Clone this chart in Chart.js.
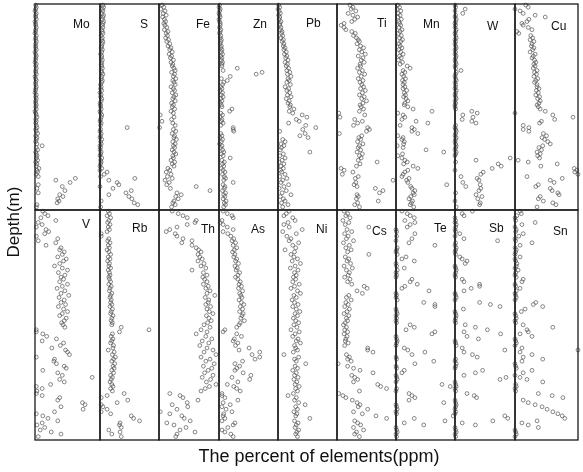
<!DOCTYPE html>
<html>
<head>
<meta charset="utf-8">
<script src="https://cdn.jsdelivr.net/npm/chart.js@4/dist/chart.umd.min.js"></script>
<style>
  html, body { margin: 0; padding: 0; background: #fff; }
  #fig { position: relative; width: 583px; height: 472px; overflow: hidden;
         font-family: "Liberation Sans", Arial, Helvetica, sans-serif; color: #111; }
  #fig canvas { position: absolute; }
  .lab { position: absolute; font-size: 12px; line-height: 12px; white-space: nowrap; }
  .xtitle { position: absolute; font-size: 18px; line-height: 18px; white-space: nowrap;
            transform: translateX(-50%); }
  .ytitle { position: absolute; font-size: 17px; line-height: 17px; white-space: nowrap;
            transform: translate(-50%, -50%) rotate(-90deg); }
</style>
</head>
<body>
<div id="fig"></div>
<script>
// Sample depths (m), shared by every element profile
const depth = [0.5,1.6,2.5,3.4,4.6,5.5,6.4,7.5,8.6,9.5,10.4,11.5,12.6,13.5,14.4,15.5,16.6,17.5,18.4,19.5,
  20.6,21.5,22.4,23.5,24.6,25.5,26.4,27.5,28.6,29.5,30.4,31.5,32.6,33.5,34.4,35.5,36.6,37.5,38.4,39.5,
  40.6,41.5,42.4,43.5,44.6,45.5,46.4,47.5,48.6,49.5,50.4,51.5,52.6,53.5,54.4,55.5,56.6,57.5,58.4,59.5,
  60.6,61.5,62.4,63.5,64.6,65.5,66.4,67.5,68.6,69.5,70.4,71.5,72.6,73.5,74.4,75.5,76.6,77.5,78.4,79.5,
  80.6,81.5,82.4,83.5,84.6,85.5,86.4,87.5,88.6,89.5,90.4,91.5,92.6,93.5,94.4,95.5,96.6,97.5,98.4,99.5];

// Element names, upper and lower rows of panels
const topElements = ['Mo','S','Fe','Zn','Pb','Ti','Mn','W','Cu'];
const bottomElements = ['V','Rb','Th','As','Ni','Cs','Te','Sb','Sn'];

// Relative content of each element (percent of its own panel range), one value per depth
const mo = [1,2,1,0,2,1,1,2,0,1, 1,2,1,1,0,2,1,1,2,1, 1,1,2,0,1,2,1,1,0,2, 1,2,1,1,2,0,1,2,1,1,
  2,1,1,0,2,1,2,1,1,2, 1,2,0,1,2,3,1,2,1,2, 3,1,2,4,1,3,2,1,3,11, 2,4,1,2,3,2,4,1,3,2,
  6,3,4,2,5,62,32,54,5,42, 3,46,5,38,43,35,37,34,3,2];
const s = [5,6,4,5,3,6,5,4,6,5, 4,5,3,4,5,2,4,3,5,4, 3,2,4,3,1,3,2,4,3,2, 3,4,2,3,5,3,2,4,3,1,
  2,1,3,0,2,1,3,2,0,1, 1,2,0,1,3,2,1,0,2,1, 46,1,0,2,1,0,3,1,2,0, 1,0,2,1,0,3,1,2,1,0,
  3,0,12,7,1,59,15,29,32,0, 22,53,44,15,49,54,2,58,64,1];
const fe = [5,8,3,10,7,12,6,9,11,8, 10,13,9,15,12,14,11,16,13,18, 15,20,18,22,17,21,19,24,20,23,
  22,25,27,21,26,24,28,23,25,27, 20,24,26,22,28,25,23,27,21,24, 22,26,20,24,2,25,21,5,23,27,
  1,24,28,22,26,25,29,23,27,24, 26,22,25,28,23,24,20,26,22,25, 15,18,12,20,14,22,10,17,13,62,
  19,85,30,37,28,32,25,23,27,21];
const zn = [1,0,2,1,0,1,2,0,1,2, 2,1,3,2,1,3,2,4,3,2, 4,3,5,4,6,3,5,4,6,5, 5,31,7,73,63,19,4,14,8,6,
  3,5,2,6,4,7,3,5,2,4, 5,22,18,3,6,2,5,4,7,3, 24,24,25,3,5,2,6,4,1,5, 3,6,8,4,7,19,5,9,6,8,
  4,7,10,6,9,11,8,24,7,10, 9,6,11,8,10,7,12,9,11,8];
const pb = [1,3,0,2,4,1,3,2,5,3, 3,5,4,7,6,8,5,9,7,10, 9,12,10,14,11,15,13,17,12,16,
  14,18,15,20,16,22,17,19,15,21, 12,18,15,20,16,22,14,19,17,21, 20,27,19,25,41,49,31,36,18,47,
  64,42,3,46,37,51,8,12,5,10, 6,4,54,9,3,12,7,2,10,5, 9,4,6,12,3,15,8,5,18,10, 2,14,7,22,4,9,12,6,17,8];
const ti = [22,27,24,32,19,27,35,30,25,12, 7,12,15,25,31,28,33,36,38,34, 40,45,38,42,48,36,44,41,46,39,
  40,35,43,38,47,41,36,44,39,42, 45,40,48,43,38,46,42,50,44,39, 41,45,38,3,47,5,30,43,35,28,
  52,55,50,4,42,37,40,35,44,38, 36,40,34,43,38,41,36,68,39,33, 7,12,27,9,36,31,95,32,29,34,
  65,78,72,34,36,33,70,35,30,38];
const mn = [3,6,2,8,4,7,3,9,5,6, 8,5,10,7,4,9,6,11,8,5, 7,10,5,8,12,6,9,4,11,7, 19,24,12,15,10,13,16,11,14,12,
  15,12,18,14,16,13,17,20,15,14, 20,29,61,3,12,15,10,34,54,7, 27,31,27,37,3,12,10,14,13,2,
  12,51,81,11,3,10,15,19,13,29, 37,20,15,12,10,22,18,20,86,25, 27,32,29,31,25,22,28,26,24,30];
const w = [0,1,17,0,13,1,0,2,1,0, 1,0,2,1,0,1,2,0,1,0, 1,2,0,1,0,2,1,0,1,2, 0,1,10,2,1,0,1,2,0,1,
  1,0,2,1,0,1,2,0,1,0, 0,1,28,37,13,30,12,28,35,1, 0,1,2,1,0,2,1,0,1,2, 1,0,2,1,0,92,35,1,72,77,
  62,0,47,43,10,37,40,13,42,18, 43,40,1,35,45,38,0,42,41,2];
const cu = [17,21,0,8,13,32,48,22,19,11, 13,21,27,3,6,25,28,24,30,27, 26,30,28,24,32,29,27,31,33,30,
  32,29,35,31,34,30,36,33,31,35, 35,38,34,37,33,39,36,40,38,35, 37,40,48,0,60,92,63,42,39,13,
  22,13,22,45,50,43,47,52,56,44, 38,42,35,40,36,39,5,21,67,41, 94,98,95,100,19,75,56,62,37,33,
  56,59,68,70,40,37,45,60,65,35];
const v = [12,15,20,9,32,5,11,2,17,21, 15,2,35,5,32,17,40,38,45,42, 35,48,44,38,30,42,50,36,46,40,
  44,38,50,42,34,46,40,52,37,45, 40,47,36,44,50,42,38,48,45,41, 43,46,2,2,12,18,33,11,44,39,
  26,47,50,53,2,30,29,33,45,48, 12,35,42,88,38,45,24,2,11,3, 2,11,38,35,73,77,40,74,30,2,
  12,20,35,11,3,15,8,25,40,5];
const rb = [14,16,12,18,15,13,17,14,16,12, 2,2,15,13,17,14,16,12,15,18, 14,17,13,16,15,18,14,16,17,15,
  16,18,15,19,17,16,20,18,17,19, 18,20,17,21,19,18,22,20,19,21, 20,36,83,33,21,19,22,20,18,23,
  22,14,24,21,26,23,20,25,22,24, 20,23,18,21,19,17,20,22,18,21, 41,12,2,47,29,2,5,12,2,18,
  53,57,67,34,33,36,15,34,20,36];
const th = [22,32,40,47,62,60,47,30,18,12, 27,30,40,55,38,55,62,66,70,65, 68,72,65,75,70,78,55,74,80,73,
  76,80,74,82,78,85,80,93,77,83, 82,78,86,80,84,90,79,83,87,81, 75,85,70,80,62,78,88,72,83,68,
  80,90,75,95,70,85,78,92,74,88, 82,76,90,72,86,79,95,84,77,70, 18,35,40,65,47,22,48,30,2,18,
  38,42,52,13,25,45,35,60,30,28];
const as = [7,14,22,24,5,2,7,14,24,7, 15,20,25,22,28,24,30,26,23,27, 25,30,28,33,27,31,29,35,32,28,
  32,36,34,38,33,40,35,37,39,34, 38,42,36,40,35,41,39,37,43,36, 34,30,10,7,30,38,26,24,32,28,
  51,34,69,56,69,61,40,27,35,30, 27,41,54,22,52,32,14,25,30,36, 5,5,10,32,7,19,5,12,22,8,
  7,10,5,27,24,15,5,10,20,24];
const ni = [19,14,10,25,29,17,10,19,41,8, 31,15,22,19,35,25,30,12,28,22, 27,33,24,38,29,21,34,28,31,26,
  30,25,36,28,22,33,38,27,31,24, 28,34,25,31,37,29,33,26,30,35, 27,32,22,36,29,25,34,31,38,28,
  30,33,26,10,35,28,31,47,29,33, 25,31,28,34,27,32,29,36,30,33, 26,17,31,28,35,46,30,33,27,32,
  30,54,28,34,31,29,35,32,30,33];
const cs = [12,18,15,22,10,20,14,54,17,25, 13,19,16,28,11,21,15,24,18,54, 14,20,17,23,12,26,16,21,19,13,
  22,18,25,46,51,34,43,20,16,24, 15,19,13,21,17,12,20,16,18,14, 11,16,13,18,12,17,15,14,19,13,
  52,52,61,16,21,18,24,2,18,28, 39,61,25,30,35,28,69,74,84,38, 3,10,15,26,34,39,36,52,28,43,
  66,84,30,35,40,28,45,33,30,38];
const te = [10,19,24,31,15,32,24,19,0,1, 32,1,27,0,22,66,2,1,0,2, 17,10,31,0,1,14,2,0,1,0,
  27,24,36,15,10,56,0,1,0,2, 47,66,66,0,1,2,0,1,0,1, 24,31,17,66,61,0,1,2,1,0,
  14,20,49,27,0,1,64,32,0,1, 14,10,0,1,2,0,78,92,1,0, 22,27,32,22,81,0,1,2,0,1,
  97,31,83,14,47,0,1,2,0,1];
const sb = [29,12,15,0,1,0,2,1,0,1, 8,0,15,71,1,0,2,1,0,1, 8,12,20,17,0,1,2,1,0,1,
  12,15,41,41,27,15,0,1,2,0, 41,59,75,14,0,1,2,1,0,1, 17,34,54,15,76,20,39,0,1,2,
  12,83,15,29,37,1,0,2,1,0, 46,34,15,85,75,0,1,2,0,1, 20,32,36,0,1,2,1,0,1,0,
  83,88,63,12,34,0,1,2,0,1];
const sn = [8,10,3,0,1,32,11,0,2,1, 13,6,0,1,27,8,0,2,1,0, 8,0,1,3,2,0,5,1,0,2,
  13,11,0,1,8,2,0,1,2,0, 33,29,44,16,10,0,1,2,0,1, 13,60,19,21,8,27,0,1,2,0,
  11,100,8,27,13,44,11,0,1,2, 27,13,0,8,19,44,1,2,0,1, 37,59,76,13,21,32,43,51,60,68,
  75,79,35,11,21,37,0,1,2,0];

const topValues = [mo, s, fe, zn, pb, ti, mn, w, cu];
const bottomValues = [v, rb, th, as, ni, cs, te, sb, sn];

// Figure layout: panel column edges, row edges and element label anchors (text left, baseline)
const colEdges = [35, 100, 159, 219, 278, 337, 396, 455, 515, 578];
const rowEdges = [4, 210, 440];
const topLabelPos = [[73,28],[140,28],[196,28],[253,28],[306,27],[377,27],[423,28],[487,30],[551,30]];
const bottomLabelPos = [[82,228],[132,232],[201,233],[251,233],[316,233],[372,235],[434,232],[489,232],[553,235]];
const PAD = 8;

const fig = document.getElementById('fig');

// Frame around each element panel
const framePlugin = {
  id: 'panelFrame',
  afterDatasetsDraw(chart) {
    const a = chart.chartArea, ctx = chart.ctx;
    ctx.save();
    ctx.strokeStyle = '#1a1a1a';
    ctx.lineWidth = 1.3;
    ctx.strokeRect(a.left, a.top, a.right - a.left, a.bottom - a.top);
    ctx.restore();
  }
};

function addPanel(name, values, col, row, labelPos) {
  const left = colEdges[col], right = colEdges[col + 1];
  const top = rowEdges[row], bottom = rowEdges[row + 1];
  const cv = document.createElement('canvas');
  cv.width = right - left + 2 * PAD;
  cv.height = bottom - top + 2 * PAD;
  cv.style.left = (left - PAD) + 'px';
  cv.style.top = (top - PAD) + 'px';
  cv.style.width = cv.width + 'px';
  cv.style.height = cv.height + 'px';
  fig.appendChild(cv);

  new Chart(cv, {
    type: 'scatter',
    data: {
      datasets: [{
        label: name,
        data: depth.map((d, i) => ({ x: values[i], y: d })),
        pointRadius: 1.9,
        pointBorderWidth: 0.7,
        pointBorderColor: '#555',
        pointBackgroundColor: 'rgba(0,0,0,0)',
        clip: false
      }]
    },
    options: {
      responsive: false,
      animation: false,
      devicePixelRatio: 1,
      events: [],
      layout: { padding: PAD },
      plugins: { legend: { display: false }, tooltip: { enabled: false } },
      scales: {
        x: { type: 'linear', display: false, min: 0, max: 100 },
        y: { type: 'linear', display: false, min: 0, max: 101, reverse: true }
      }
    },
    plugins: [framePlugin]
  });

  const lab = document.createElement('div');
  lab.className = 'lab';
  lab.textContent = name;
  lab.style.left = labelPos[0] + 'px';
  lab.style.top = (labelPos[1] - 10) + 'px';
  fig.appendChild(lab);
}

topElements.forEach((n, i) => addPanel(n, topValues[i], i, 0, topLabelPos[i]));
bottomElements.forEach((n, i) => addPanel(n, bottomValues[i], i, 1, bottomLabelPos[i]));

const xt = document.createElement('div');
xt.className = 'xtitle';
xt.textContent = 'The percent of elements(ppm)';
xt.style.left = '319px';
xt.style.top = '447px';
fig.appendChild(xt);

const yt = document.createElement('div');
yt.className = 'ytitle';
yt.textContent = 'Depth(m)';
yt.style.left = '13px';
yt.style.top = '222px';
fig.appendChild(yt);
</script>
</body>
</html>
